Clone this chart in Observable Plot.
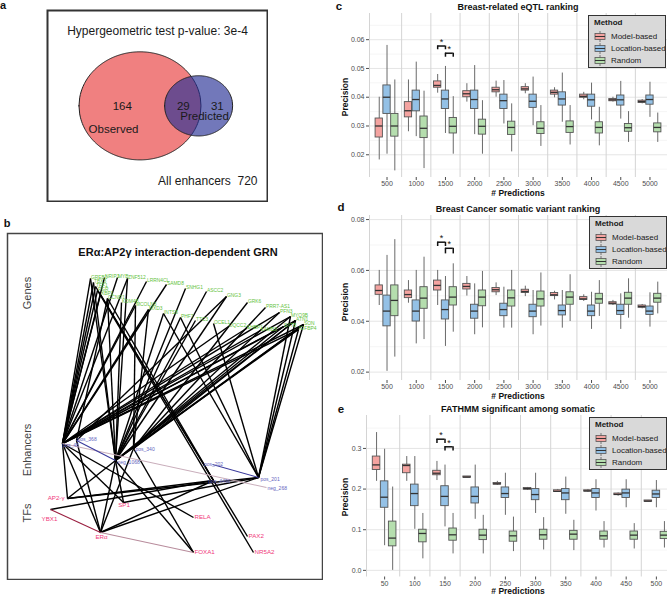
<!DOCTYPE html>
<html><head><meta charset="utf-8">
<script src="https://cdn.jsdelivr.net/npm/d3@7"></script>
<script src="https://cdn.jsdelivr.net/npm/@observablehq/plot@0.6"></script>
<style>
body{margin:0;background:#fff;font-family:"Liberation Sans",Arial,Helvetica,sans-serif;}
#fig{position:relative;width:667px;height:596px;overflow:hidden;background:#fff}
.t{position:absolute;white-space:nowrap;line-height:1;color:#111}
.leg{position:absolute;background:#d9d9d9;border:1px solid #333;box-sizing:border-box;width:78px;height:53px;font-size:8px;color:#1a1a1a;white-space:nowrap;overflow:hidden}
.leg .li{position:absolute;left:5px;height:11px;display:flex;align-items:center;white-space:nowrap}
.leg .li span{margin-left:5px;white-space:nowrap}
</style></head><body><div id="fig"></div>
<script>
// ---------------- DATA ----------------
// Panel a: Venn counts
const observedOnly = 164, bothCount = 29, predictedOnly = 31, allEnhancers = 720;
const pValueText = "3e-4";

// Panel b: network nodes (layout coordinates) and edges
const tfNames  = ["AP2γ","YBX1","ERα","SP1","RELA","FOXA1","PAX2","NR5A2"];
const tfLabels = ["AP2-γ","YBX1","ERα","SP1","RELA","FOXA1","PAX2","NR5A2"];
const tfX = [60,43,93,116,186,186,240,246];
const tfY = [265,276,299,269,284,319,303,319];
const enhNames = ["pos_48","pos_368","neg_1068","pos_340","pos_202","pos_4496","pos_201","neg_268"];
const enhX = [55,69,108,126,205,206,251,259];
const enhY = [210,207,227,215,231,247,244,254];
const geneNames = ["GREB1","TBX3","NRIP1","MYB","ZNF512","TFF1","PGR","XBP1","CCND1","KDM4B","MCOLN3","MXD3","INTS8","PHF7","TTC3","OCEL1","UQCC2","EHBP1","LAMB3","LRRN4CL","SAMD8","SNHG1","ASCC2","GNG3","GRK6","PRR7-AS1","PFN3","MYO9B","ATN1","SON","IGFBP4","SYT8"];
const geneX = [83,86,97,110,120,88,90,93,100,114,128,141,156,173,188,206,221,239,253,139,159,178,199,219,240,258,272,283,288,296,291,276];
const geneY = [45,49,44,44,45,53,57,61,65,69,72,76,80,84,87,90,93,95,97,48,51,55,58,63,69,74,79,83,87,91,96,93];
const tfEnhEdges = [["AP2γ","pos_48"],["AP2γ","neg_1068"],["AP2γ","pos_4496"],["AP2γ","pos_201"],["YBX1","pos_4496"],
  ["ERα","pos_48"],["ERα","neg_1068"],["ERα","pos_340"],["ERα","pos_4496"],["ERα","pos_201"],["ERα","pos_368"],
  ["SP1","pos_48"],["SP1","neg_1068"],["SP1","pos_201"],["RELA","pos_48"],["FOXA1","pos_340"],["FOXA1","neg_1068"],
  ["PAX2","TFF1"],["NR5A2","PGR"]];
const enhGeneEdges = [
  ["pos_48","GREB1"],["pos_48","NRIP1"],["pos_48","MYB"],["pos_48","TBX3"],["pos_48","TFF1"],["pos_48","PGR"],["pos_48","XBP1"],
  ["pos_48","LRRN4CL"],["pos_48","SAMD8"],["pos_48","MCOLN3"],["pos_48","MXD3"],["pos_48","MYO9B"],["pos_48","ATN1"],["pos_48","SON"],
  ["pos_48","IGFBP4"],["pos_48","SYT8"],["pos_48","LAMB3"],["pos_48","EHBP1"],["pos_48","UQCC2"],["pos_48","PFN3"],["pos_48","ZNF512"],
  ["pos_368","CCND1"],["pos_368","GNG3"],
  ["neg_1068","GREB1"],["neg_1068","ZNF512"],["neg_1068","KDM4B"],["neg_1068","CCND1"],["neg_1068","SNHG1"],["neg_1068","ASCC2"],
  ["neg_1068","GNG3"],["neg_1068","TTC3"],["neg_1068","ATN1"],["neg_1068","MYO9B"],["neg_1068","INTS8"],["neg_1068","PHF7"],
  ["neg_1068","SON"],["neg_1068","IGFBP4"],["neg_1068","SYT8"],["neg_1068","TBX3"],
  ["pos_340","MXD3"],["pos_340","GRK6"],["pos_340","PRR7-AS1"],["pos_340","PFN3"],["pos_340","SON"],["pos_340","ATN1"],["pos_340","MCOLN3"],
  ["pos_201","MYO9B"],["pos_201","ATN1"],["pos_201","SON"],["pos_201","IGFBP4"],["pos_201","OCEL1"],["pos_201","INTS8"],["pos_201","PHF7"],
  ["pos_4496","XBP1"],["pos_4496","CCND1"]];
const pairEdges = [["YBX1","ERα","tf-tf"],["ERα","FOXA1","tf-tf-weak"],["pos_48","neg_268","enh-enh-weak"],["pos_368","neg_1068","enh-enh"],["pos_202","pos_201","enh-enh"]];

// Panels c-e: box-plot five-number summaries [lower whisker, Q1, median, Q3, upper whisker]
const methods = ["Model-based","Location-based","Random"];
const predLabelsCD = ["500","1000","1500","2000","2500","3000","3500","4000","4500","5000"];
const predLabelsE = ["50","100","150","200","250","300","350","400","450","500"];
const cModel = [[0.0182,0.0260,0.0300,0.0326,0.0400],[0.0280,0.0330,0.0353,0.0383,0.0460],[0.0414,0.0433,0.0441,0.0455,0.0479],[0.0383,0.0400,0.0412,0.0421,0.0447],[0.0400,0.0417,0.0426,0.0433,0.0456],[0.0412,0.0423,0.0429,0.0435,0.0447],[0.0398,0.0409,0.0417,0.0423,0.0433],[0.0391,0.0398,0.0403,0.0409,0.0417],[0.0383,0.0386,0.0391,0.0394,0.0400],[0.0377,0.0380,0.0385,0.0388,0.0392]];
const cLocation = [[0.0202,0.0342,0.0400,0.0441,0.0580],[0.0263,0.0351,0.0392,0.0423,0.0522],[0.0274,0.0359,0.0394,0.0423,0.0507],[0.0270,0.0359,0.0392,0.0423,0.0510],[0.0307,0.0359,0.0388,0.0409,0.0458],[0.0301,0.0363,0.0386,0.0409,0.0470],[0.0313,0.0371,0.0394,0.0417,0.0484],[0.0321,0.0367,0.0391,0.0409,0.0449],[0.0324,0.0371,0.0391,0.0406,0.0455],[0.0330,0.0374,0.0392,0.0406,0.0452]];
const cRandom = [[0.0144,0.0263,0.0300,0.0342,0.0460],[0.0152,0.0258,0.0292,0.0333,0.0421],[0.0202,0.0274,0.0299,0.0328,0.0402],[0.0202,0.0270,0.0299,0.0322,0.0388],[0.0210,0.0269,0.0295,0.0315,0.0377],[0.0229,0.0272,0.0292,0.0313,0.0371],[0.0234,0.0276,0.0298,0.0316,0.0371],[0.0231,0.0274,0.0295,0.0313,0.0365],[0.0243,0.0280,0.0294,0.0307,0.0350],[0.0243,0.0278,0.0295,0.0309,0.0345]];
const dModel = [[0.0462,0.0504,0.0521,0.0541,0.0600],[0.0471,0.0491,0.0505,0.0521,0.0560],[0.0462,0.0521,0.0541,0.0560,0.0600],[0.0499,0.0525,0.0537,0.0547,0.0576],[0.0501,0.0514,0.0524,0.0531,0.0551],[0.0497,0.0511,0.0517,0.0524,0.0538],[0.0484,0.0499,0.0504,0.0511,0.0518],[0.0478,0.0484,0.0488,0.0495,0.0504],[0.0462,0.0466,0.0471,0.0475,0.0482],[0.0449,0.0453,0.0458,0.0462,0.0466]];
const dLocation = [[0.0203,0.0380,0.0440,0.0501,0.0659],[0.0311,0.0399,0.0440,0.0482,0.0600],[0.0301,0.0407,0.0446,0.0482,0.0576],[0.0347,0.0410,0.0440,0.0465,0.0547],[0.0373,0.0420,0.0446,0.0469,0.0534],[0.0347,0.0416,0.0440,0.0465,0.0521],[0.0373,0.0423,0.0442,0.0462,0.0521],[0.0368,0.0420,0.0440,0.0462,0.0514],[0.0368,0.0425,0.0442,0.0465,0.0508],[0.0377,0.0425,0.0440,0.0458,0.0512]];
const dRandom = [[0.0259,0.0420,0.0482,0.0541,0.0721],[0.0328,0.0449,0.0491,0.0534,0.0652],[0.0357,0.0462,0.0495,0.0534,0.0626],[0.0374,0.0459,0.0495,0.0521,0.0596],[0.0373,0.0458,0.0492,0.0521,0.0600],[0.0381,0.0458,0.0488,0.0517,0.0590],[0.0399,0.0465,0.0495,0.0514,0.0583],[0.0419,0.0469,0.0488,0.0508,0.0560],[0.0412,0.0465,0.0491,0.0512,0.0567],[0.0429,0.0473,0.0491,0.0508,0.0554]];
const eModel = [[0.219,0.247,0.2595,0.280,0.339],[0.219,0.239,0.258,0.260,0.280],[0.221,0.234,0.239,0.245,0.268],[0.228,0.228,0.2295,0.231,0.231],[0.209,0.211,0.213,0.215,0.219],[0.197,0.1986,0.201,0.2027,0.204],[0.192,0.193,0.1946,0.197,0.199],[0.192,0.194,0.1954,0.197,0.199],[0.1824,0.185,0.187,0.189,0.1905],[0.169,0.169,0.1703,0.172,0.172]];
const eLocation = [[0.0607,0.154,0.180,0.219,0.298],[0.101,0.158,0.189,0.211,0.280],[0.107,0.158,0.182,0.207,0.259],[0.1256,0.1646,0.182,0.204,0.259],[0.1354,0.178,0.189,0.204,0.239],[0.140,0.1727,0.1865,0.200,0.239],[0.138,0.1727,0.1905,0.200,0.2295],[0.146,0.178,0.1905,0.200,0.223],[0.154,0.178,0.1905,0.1986,0.223],[0.154,0.178,0.188,0.196,0.221]];
const eRandom = [[0.0,0.0591,0.0794,0.120,0.205],[0.0283,0.069,0.0908,0.100,0.140],[0.0405,0.073,0.0875,0.103,0.140],[0.0405,0.0745,0.0867,0.100,0.1354],[0.0462,0.0705,0.085,0.0956,0.131],[0.0502,0.0754,0.0875,0.100,0.1297],[0.0486,0.0754,0.0891,0.0972,0.1232],[0.055,0.0754,0.085,0.0956,0.120],[0.0526,0.0754,0.0867,0.0956,0.115],[0.055,0.077,0.0867,0.0948,0.120]];
// significance brackets at 1500 / 150: [group, fromMethod, toMethod, bracketTop, legEnd]
const cSig = [[2,0,1,0.0578,0.0565],[2,1,2,0.0553,0.0539]];
const dSig = [[2,0,1,0.0711,0.0694],[2,1,2,0.0687,0.0665]];
const eSig = [[2,0,1,0.3227,0.3122],[2,1,2,0.3040,0.2935]];

// ---------------- HELPERS ----------------
const fig = document.getElementById("fig");
const FONT = "Liberation Sans, Arial, Helvetica, sans-serif";
function txt(s, x, y, css = "", anchor = "middle", rotate = 0) {
  const d = document.createElement("div");
  d.className = "t"; d.textContent = s;
  d.style.left = x + "px"; d.style.top = y + "px";
  const tx = anchor === "start" ? "0" : anchor === "end" ? "-100%" : "-50%";
  d.style.transform = `translate(${tx},-50%)` + (rotate ? ` rotate(${rotate}deg)` : "");
  d.style.cssText += css;
  fig.appendChild(d); return d;
}
function put(el, x, y) { el.style.position = "absolute"; el.style.left = x + "px"; el.style.top = y + "px"; fig.appendChild(el); }

// ---------------- PANEL a ----------------
{
  const nObs = observedOnly + bothCount, nPred = predictedOnly + bothCount;
  const r1 = Math.sqrt(nObs / Math.PI), r2 = Math.sqrt(nPred / Math.PI);
  const inter = d => {
    const a = r1*r1*Math.acos((d*d + r1*r1 - r2*r2)/(2*d*r1));
    const b = r2*r2*Math.acos((d*d + r2*r2 - r1*r1)/(2*d*r2));
    const c = 0.5*Math.sqrt((-d+r1+r2)*(d+r1-r2)*(d-r1+r2)*(d+r1+r2));
    return a + b - c;
  };
  let lo = Math.abs(r1 - r2) + 1e-6, hi = r1 + r2 - 1e-6;
  for (let k = 0; k < 60; k++) { const m = (lo + hi)/2; if (inter(m) > bothCount) lo = m; else hi = m; }
  const dist = (lo + hi)/2;
  const ellipse = (cx, r) => d3.range(0, 181).map(k => { const x = cx - r + 2*r*k/180; const h = Math.sqrt(Math.max(0, r*r - (x-cx)*(x-cx))); return {x, y1: -h, y2: h}; });
  const counts = [
    {x: (-r1 + dist - r2)/2, t: String(observedOnly)},
    {x: (dist - r2 + r1)/2, t: String(bothCount)},
    {x: (r1 + dist + r2)/2, t: String(predictedOnly)}];
  const p = Plot.plot({
    width: 222, height: 193, margin: 1,
    x: {domain: [-11.95, 16.32], axis: null},
    y: {domain: [-13.8, 13.9], axis: null},
    style: {fontFamily: FONT, background: "transparent", color: "#111"},
    marks: [
      Plot.areaY(ellipse(0, r1), {x: "x", y1: "y1", y2: "y2", fill: "#F08080", stroke: "#222", strokeWidth: 1}),
      Plot.areaY(ellipse(dist, r2), {x: "x", y1: "y1", y2: "y2", fill: "#263095", fillOpacity: 0.65, stroke: "#222", strokeWidth: 1}),
      Plot.text(counts, {x: "x", y: 0, text: "t", fontSize: 11.5, fill: "#1a1a1a"}),
      Plot.text([{x: 0, t: "Observed"}], {x: "x", y: 0, text: "t", dx: -27, dy: 23, fontSize: 11.5, fill: "#1a1a1a"}),
      Plot.text([{x: dist, t: "Predicted"}], {x: "x", y: 0, text: "t", dx: 5.5, dy: 10, fontSize: 11.5, fill: "#1a1a1a"}),
      Plot.text(["Hypergeometric test p-value: " + pValueText], {frameAnchor: "top", dy: 16, fontSize: 12, fill: "#1a1a1a"}),
      Plot.text(["All enhancers\u00a0 " + allEnhancers], {frameAnchor: "bottom-right", textAnchor: "end", dx: -10, dy: -17, fontSize: 12, fill: "#1a1a1a"}),
      Plot.frame({stroke: "#333", strokeWidth: 2})
    ]
  });
  put(p, 46, 9);
  txt("a", 3, 5, "font-weight:bold;font-size:11px;");
}

// ---------------- PANEL b ----------------
{
  const nodes = [];
  tfNames.forEach((n, i) => nodes.push({id: n, label: tfLabels[i], type: "tf", x: tfX[i], y: tfY[i]}));
  enhNames.forEach((n, i) => nodes.push({id: n, label: n, type: "enh", x: enhX[i], y: enhY[i]}));
  geneNames.forEach((n, i) => nodes.push({id: n, label: n, type: "gene", x: geneX[i], y: geneY[i]}));
  const byId = new Map(nodes.map(n => [n.id, n]));
  // label placement (style)
  const place = {
    "AP2γ": ["end", -3, 0], "YBX1": ["middle", -1, 10], "ERα": ["middle", 1, 5], "SP1": ["middle", 0.5, 3],
    "RELA": ["start", 1, 0], "FOXA1": ["start", 1, 0], "PAX2": ["start", 1, 0], "NR5A2": ["start", 1, 0],
    "pos_48": ["start", 0, 1.5], "pos_368": ["start", 1, -1], "neg_1068": ["start", 2, 2], "pos_340": ["start", 2, 1],
    "pos_202": ["middle", 1, 0], "pos_4496": ["middle", 6, 1], "pos_201": ["start", 2, 2], "neg_268": ["start", 1, 1]
  };
  nodes.forEach(n => { const p = place[n.id] || ["start", 0.5, -1]; n.anchor = p[0]; n.lx = n.x + p[1]; n.ly = n.y + p[2]; });
  const typeColor = {tf: "#F0387A", enh: "#6464BE", gene: "#5FC23A"};
  const typeSize = {tf: 6.2, enh: 5, gene: 4.9};
  const edgeColor = {"tf-enh": "#000", "tf-tf": "#9a1f40", "tf-tf-weak": "#b88c9c", "enh-enh": "#3a3a9c", "enh-enh-weak": "#c9aebb"};
  const edges = [
    ...tfEnhEdges.map(([a, b]) => ({a, b, kind: "tf-enh"})),
    ...enhGeneEdges.map(([a, b]) => ({a, b, kind: "tf-enh"})),
    ...pairEdges.map(([a, b, k]) => ({a, b, kind: k}))];
  const textMark = anchor => Plot.text(nodes.filter(n => n.anchor === anchor), {
    x: "lx", y: "ly", text: "label", textAnchor: anchor,
    fill: d => typeColor[d.type], fontSize: d => typeSize[d.type]});
  const p = Plot.plot({
    width: 317, height: 348, margin: 1,
    x: {domain: [0, 315], axis: null},
    y: {domain: [0, 346], reverse: true, axis: null},
    style: {fontFamily: FONT, background: "transparent"},
    marks: [
      Plot.link(edges, {x1: d => byId.get(d.a).x, y1: d => byId.get(d.a).y, x2: d => byId.get(d.b).x, y2: d => byId.get(d.b).y,
        stroke: d => edgeColor[d.kind], strokeWidth: d => d.kind === "tf-enh" ? 1.4 : 1.1}),
      textMark("start"), textMark("middle"), textMark("end"),
      Plot.frame({stroke: "#444", strokeWidth: 1.5})
    ]
  });
  put(p, 6, 232);
  txt("b", 7, 223, "font-weight:bold;font-size:11px;");
  txt("ERα:AP2γ interaction-dependent GRN", 178, 252, "font-weight:bold;font-size:11px;");
  txt("Genes", 27, 293, "font-size:11px;color:#444;", "middle", -90);
  txt("Enhancers", 27, 450, "font-size:11px;color:#444;", "middle", -90);
  txt("TFs", 27, 513, "font-size:11px;color:#444;", "middle", -90);
}

// ---------------- PANELS c, d, e ----------------
const fills = ["#F4A3A0", "#94C1E6", "#B5DEAE"];
function boxPanel(cfg) {
  const rows = [];
  [cfg.model, cfg.location, cfg.random].forEach((arr, j) => arr.forEach((s, i) =>
    rows.push({i, j, lo: s[0], q1: s[1], med: s[2], q3: s[3], hi: s[4]})));
  const off = j => (j - 1) * 0.8 / 3, hw = 0.125;
  const cx = d => d.i + off(d.j);
  const sig = cfg.sig.map(([g, a, b, top, leg]) => ({g, a, b, top, leg}));
  const legs = sig.flatMap(s => [{x: s.g + off(s.a), y1: s.top, y2: s.leg}, {x: s.g + off(s.b), y1: s.top, y2: s.leg}]);
  const p = Plot.plot({
    width: 332, height: cfg.height,
    marginLeft: cfg.ml, marginTop: cfg.mt, marginBottom: cfg.mb, marginRight: 0,
    x: {domain: [-0.6, 9.6], range: cfg.xRange},
    y: {domain: cfg.yDomain},
    style: {fontFamily: FONT, background: "transparent", color: "#4d4d4d", overflow: "visible"},
    marks: [
      Plot.ruleY(cfg.minor, {stroke: "#eeeeee", strokeWidth: 0.6}),
      Plot.ruleY(cfg.major, {stroke: "#e2e2e2", strokeWidth: 0.9}),
      Plot.ruleX([-0.6, 0.5, 1.5, 2.5, 3.5, 4.5, 5.5, 6.5, 7.5, 8.5], {stroke: "#d4d4d4", strokeWidth: 1}),
      Plot.ruleX(rows, {x: cx, y1: "lo", y2: "hi", stroke: "#6a6a6a", strokeWidth: 1}),
      Plot.rect(rows, {x1: d => cx(d) - hw, x2: d => cx(d) + hw, y1: "q1", y2: "q3", fill: d => fills[d.j], stroke: "#555", strokeWidth: 0.9}),
      Plot.ruleY(rows, {y: "med", x1: d => cx(d) - hw, x2: d => cx(d) + hw, stroke: "#333", strokeWidth: 1.3}),
      Plot.ruleY(sig, {y: "top", x1: d => d.g + off(d.a), x2: d => d.g + off(d.b), stroke: "#111", strokeWidth: 1.5}),
      Plot.ruleX(legs, {x: "x", y1: "y1", y2: "y2", stroke: "#111", strokeWidth: 1.5}),
      Plot.text(sig, {x: d => d.g + (off(d.a) + off(d.b))/2, y: "top", text: () => "*", fontSize: 9, fill: "#111", dy: -1, lineAnchor: "bottom"}),
      Plot.axisY({ticks: cfg.major, tickFormat: cfg.fmt, tickSize: 3, tickPadding: 2, fontSize: 7, label: null}),
      Plot.axisX({ticks: d3.range(10), tickFormat: i => cfg.labels[i], tickSize: 3, tickPadding: 1, fontSize: 7, label: null})
    ]
  });
  put(p, 335, cfg.top);
}
function legend(x, y) {
  const d = document.createElement("div");
  d.className = "leg";
  let h = `<div style="position:absolute;left:5px;top:3px;font-weight:bold;line-height:1">Method</div>`;
  methods.forEach((m, j) => {
    h += `<div class="li" style="top:${14.5 + j*12}px"><svg width="12" height="11"><line x1="6" x2="6" y1="0" y2="11" stroke="#777" stroke-width="1"/><rect x="1" y="2.5" width="10" height="6" fill="${fills[j]}" stroke="#555" stroke-width="0.8"/><line x1="1" x2="11" y1="5.5" y2="5.5" stroke="#333" stroke-width="1"/></svg><span>${m}</span></div>`;
  });
  d.innerHTML = h;
  d.style.left = x + "px"; d.style.top = y + "px";
  fig.appendChild(d);
}

boxPanel({top: 0, height: 200, ml: 34, mt: 13, mb: 23, xRange: [34, 332], yDomain: [0.0121, 0.0691],
  major: [0.02, 0.03, 0.04, 0.05, 0.06], minor: [0.015, 0.025, 0.035, 0.045, 0.055, 0.065], fmt: d3.format(".2f"),
  labels: predLabelsCD, model: cModel, location: cLocation, random: cRandom, sig: cSig});
boxPanel({top: 200, height: 200, ml: 34, mt: 15, mb: 20, xRange: [34, 332], yDomain: [0.0167, 0.0816],
  major: [0.02, 0.04, 0.06, 0.08], minor: [0.03, 0.05, 0.07], fmt: d3.format(".2f"),
  labels: predLabelsCD, model: dModel, location: dLocation, random: dRandom, sig: dSig});
boxPanel({top: 400, height: 196, ml: 31, mt: 15, mb: 19.5, xRange: [31, 339], yDomain: [-0.0163, 0.381],
  major: [0, 0.1, 0.2, 0.3], minor: [0.05, 0.15, 0.25, 0.35], fmt: d3.format(".1f"),
  labels: predLabelsE, model: eModel, location: eLocation, random: eRandom, sig: eSig});

const bt = "font-weight:bold;font-size:9px;color:#111;";
const at = "font-weight:bold;font-size:8.5px;color:#111;";
txt("c", 339, 7, "font-weight:bold;font-size:11.5px;");
txt("Breast-related eQTL ranking", 518, 7, bt);
txt("Precision", 345, 97, at, "middle", -90);
txt("# Predictions", 518, 193, at);
txt("d", 341, 208, "font-weight:bold;font-size:11.5px;");
txt("Breast Cancer somatic variant ranking", 518, 209, bt);
txt("Precision", 345, 302, at, "middle", -90);
txt("# Predictions", 518, 395.5, at);
txt("e", 341, 410, "font-weight:bold;font-size:11.5px;");
txt("FATHMM significant among somatic", 518, 409, bt);
txt("Precision", 345, 497, at, "middle", -90);
txt("# Predictions", 518, 591, at);
legend(588, 15);
legend(589, 216);
legend(589, 417);
</script></body></html>
